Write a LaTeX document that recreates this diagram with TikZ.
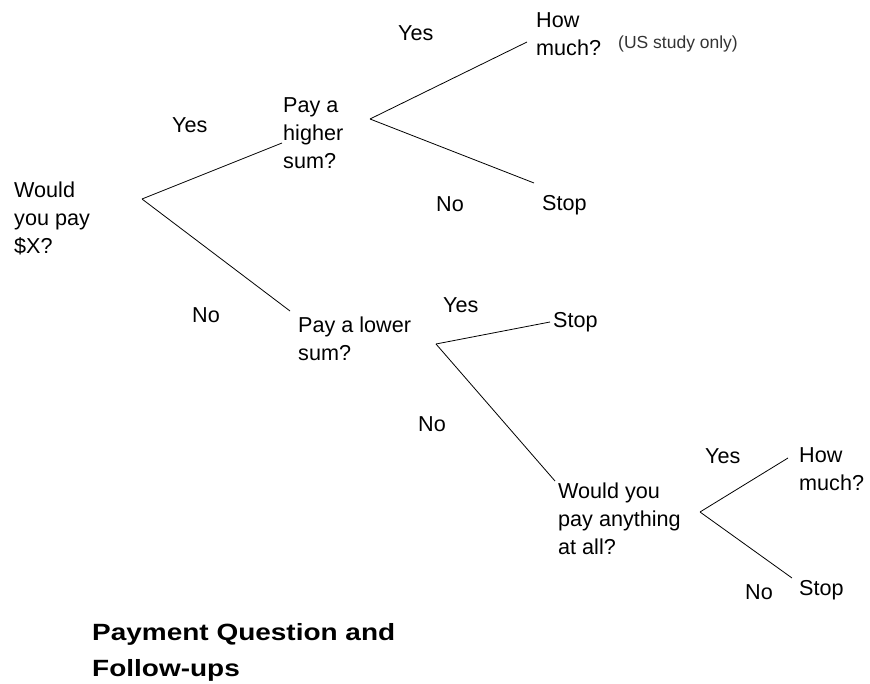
\documentclass[tikz,border=0pt]{standalone}
\usepackage{fontspec}
\setmainfont{Liberation Sans}
\newfontfamily\titlefont[FakeStretch=1.19]{Liberation Sans}

\begin{document}
\begin{tikzpicture}[x=1pt,y=-1pt,
  every node/.style={anchor=north west,inner sep=0pt,align=left,font=\fontsize{21.6}{28}\selectfont},
  note/.style={font=\fontsize{17.5}{21}\selectfont,text=black!80},
  title/.style={font=\titlefont\fontsize{23.5}{36}\selectfont\bfseries},
  branch/.style={line width=0.8pt}]
  \useasboundingbox (0,0) rectangle (870,684);

  \node (q0) at (14,182) {Would\\you pay\\\$X?};
  \node (hi) at (283,97) {Pay a\\higher\\sum?};
  \node (lo) at (298,317) {Pay a lower\\sum?};
  \node (hm1) at (536,12) {How\\much?};
  \node[note] (us) at (618,36) {(US study only)};
  \node (st1) at (542,195) {Stop};
  \node (st2) at (553,312) {Stop};
  \node (any) at (558,483) {Would you\\pay anything\\at all?};
  \node (hm2) at (799,447) {How\\much?};
  \node (st3) at (799,580) {Stop};

  \node (y0) at (172,117) {Yes};
  \node (n0) at (192,307) {No};
  \node (y1) at (398,25) {Yes};
  \node (n1) at (436,196) {No};
  \node (y2) at (443,297) {Yes};
  \node (n2) at (418,416) {No};
  \node (y3) at (705,448) {Yes};
  \node (n3) at (745,584) {No};

  \node[title] (cap) at (92,623) {Payment Question and\\Follow-ups};

  \coordinate (f0) at (142,199);
  \coordinate (f1) at (370,119);
  \coordinate (f2) at (436,344);
  \coordinate (f3) at (700,512);
  \coordinate (hiIn) at (282,143);
  \coordinate (loIn) at (290,311);
  \coordinate (hm1In) at (527,42);
  \coordinate (st1In) at (534,183);
  \coordinate (st2In) at (550,322);
  \coordinate (anyIn) at (555,481);
  \coordinate (hm2In) at (788,458);
  \coordinate (st3In) at (792,578);

  \draw[branch] (f0)--(hiIn);
  \draw[branch] (f0)--(loIn);
  \draw[branch] (f1)--(hm1In);
  \draw[branch] (f1)--(st1In);
  \draw[branch] (f2)--(st2In);
  \draw[branch] (f2)--(anyIn);
  \draw[branch] (f3)--(hm2In);
  \draw[branch] (f3)--(st3In);
\end{tikzpicture}
\end{document}
